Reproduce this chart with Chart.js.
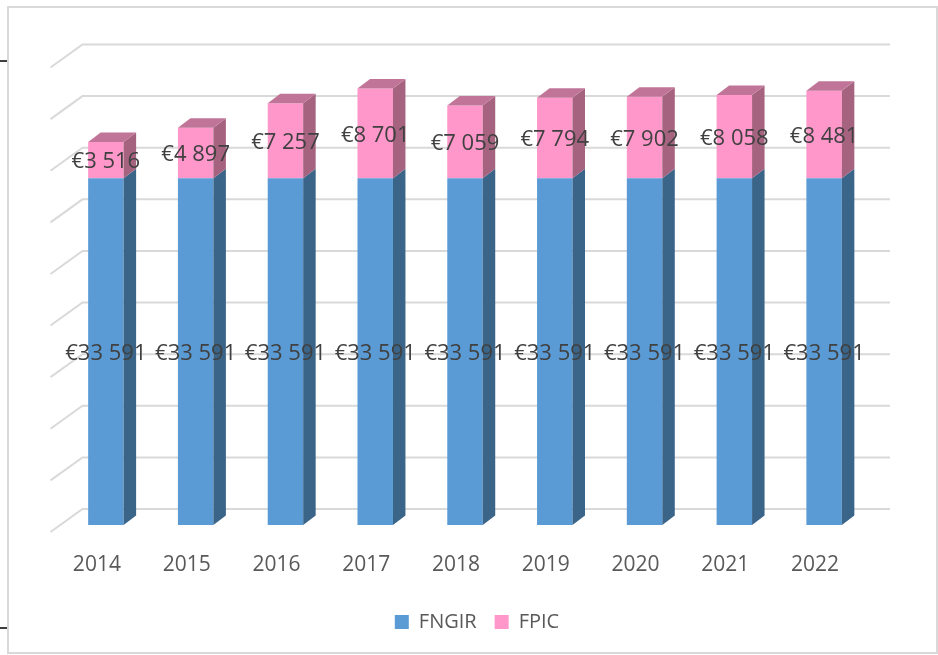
<!DOCTYPE html>
<html>
<head>
<meta charset="utf-8">
<script src="https://cdn.jsdelivr.net/npm/chart.js@4.4.1/dist/chart.umd.min.js"></script>
<style>
  html, body { margin: 0; padding: 0; background: #fff; }
</style>
</head>
<body>
<canvas id="barChart" width="938" height="655"></canvas>
<script>
// --- Data ---
const years = ['2014', '2015', '2016', '2017', '2018', '2019', '2020', '2021', '2022'];
const fngirValues = [33591, 33591, 33591, 33591, 33591, 33591, 33591, 33591, 33591];
const fpicValues = [3516, 4897, 7257, 8701, 7059, 7794, 7902, 8058, 8481];
const gridValues = [0, 5000, 10000, 15000, 20000, 25000, 30000, 35000, 40000, 45000];

const FONT = '"Open Sans", "Liberation Sans", sans-serif';

const fmtEuro = v => '€' + String(v).replace(/\B(?=(\d{3})+(?!\d))/g, ' ');

// --- Plugins ---
// outer frame + page marks
const framePlugin = {
  id: 'frame',
  beforeDraw(chart) {
    const ctx = chart.ctx;
    ctx.save();
    ctx.fillStyle = '#fff';
    ctx.fillRect(0, 0, chart.width, chart.height);
    ctx.strokeStyle = '#d9d9d9';
    ctx.lineWidth = 2;
    ctx.strokeRect(8, 7, 929, 646);
    ctx.strokeStyle = '#000';
    ctx.lineWidth = 1.5;
    ctx.beginPath();
    ctx.moveTo(0, 61); ctx.lineTo(7, 61);
    ctx.moveTo(0, 628); ctx.lineTo(7, 628);
    ctx.stroke();
    ctx.restore();
  }
};

// legend sits a little right of the plot centre in the original
const legendShift = {
  id: 'legendShift',
  afterLayout(chart) {
    if (chart.legend) {
      chart.legend.left += 12;
      chart.legend.right += 12;
    }
  }
};

// back wall gridlines + floor slant (3D look)
const wallPlugin = {
  id: 'wall',
  beforeDatasetsDraw(chart) {
    const { ctx, chartArea, scales: { y } } = chart;
    const backLeft = chartArea.left + 21.5;
    const frontLeft = chartArea.left - 10.5;
    const backRight = chartArea.right + 21;
    ctx.save();
    ctx.strokeStyle = '#d9d9d9';
    ctx.lineWidth = 2;
    gridValues.forEach(v => {
      const py = y.getPixelForValue(v) - 16;
      ctx.beginPath();
      ctx.moveTo(frontLeft, py + 23);
      ctx.lineTo(backLeft, py);
      ctx.lineTo(backRight, py);
      ctx.stroke();
    });
    ctx.restore();
  }
};

// side and top faces of the columns
const depthPlugin = {
  id: 'depth',
  afterDatasetsDraw(chart) {
    const ctx = chart.ctx;
    const dx = 12.5, dy = -9.5;
    const last = chart.data.datasets.length - 1;
    ctx.save();
    chart.data.datasets.forEach((ds, di) => {
      const meta = chart.getDatasetMeta(di);
      meta.data.forEach(bar => {
        const { x, y, base, width } = bar.getProps(['x', 'y', 'base', 'width'], true);
        const x1 = x - width / 2, x2 = x + width / 2;
        ctx.fillStyle = ds.sideColor;
        ctx.beginPath();
        ctx.moveTo(x2, y);
        ctx.lineTo(x2 + dx, y + dy);
        ctx.lineTo(x2 + dx, base + dy);
        ctx.lineTo(x2, base);
        ctx.closePath();
        ctx.fill();
        if (di === last) {
          ctx.fillStyle = ds.topColor;
          ctx.beginPath();
          ctx.moveTo(x1, y);
          ctx.lineTo(x1 + dx, y + dy);
          ctx.lineTo(x2 + dx, y + dy);
          ctx.lineTo(x2, y);
          ctx.closePath();
          ctx.fill();
        }
      });
    });
    ctx.restore();
  }
};

// value labels in the middle of each segment
const labelPlugin = {
  id: 'valueLabels',
  afterDatasetsDraw(chart) {
    const ctx = chart.ctx;
    ctx.save();
    ctx.font = '22px ' + FONT;
    ctx.fillStyle = '#404040';
    ctx.textAlign = 'center';
    ctx.textBaseline = 'middle';
    chart.data.datasets.forEach((ds, di) => {
      chart.getDatasetMeta(di).data.forEach((bar, i) => {
        const { x, y, base } = bar.getProps(['x', 'y', 'base'], true);
        ctx.fillText(fmtEuro(ds.data[i]), x, (y + base) / 2 + 2);
      });
    });
    ctx.restore();
  }
};

// --- Chart ---
const canvas = document.getElementById('barChart');
const chart = new Chart(canvas, {
  type: 'bar',
  data: {
    labels: years,
    datasets: [
      {
        label: 'FNGIR',
        data: fngirValues,
        backgroundColor: '#5b9bd5',
        sideColor: '#3a6589',
        topColor: '#4a7fb0',
        borderWidth: 0
      },
      {
        label: 'FPIC',
        data: fpicValues,
        backgroundColor: '#ff97ca',
        sideColor: '#a6637f',
        topColor: '#c07598',
        borderWidth: 0
      }
    ]
  },
  options: {
    responsive: false,
    animation: false,
    devicePixelRatio: 1,
    layout: { padding: { left: 61, right: 69, top: 60.5, bottom: 13 } },
    datasets: { bar: { categoryPercentage: 1, barPercentage: 0.395 } },
    scales: {
      x: {
        stacked: true,
        grid: { display: false, drawTicks: false },
        border: { display: false },
        afterFit(scale) { scale.height = 69; },
        ticks: {
          color: '#595959',
          font: { family: FONT, size: 21 },
          padding: 27.5,
          labelOffset: -9
        }
      },
      y: {
        stacked: true,
        display: false,
        min: 0,
        max: 45000
      }
    },
    plugins: {
      legend: {
        position: 'bottom',
        labels: {
          boxWidth: 14,
          boxHeight: 14,
          padding: 18,
          color: '#595959',
          font: { family: FONT, size: 20 }
        }
      },
      tooltip: { enabled: false }
    }
  },
  plugins: [framePlugin, legendShift, wallPlugin, depthPlugin, labelPlugin]
});
</script>
</body>
</html>
